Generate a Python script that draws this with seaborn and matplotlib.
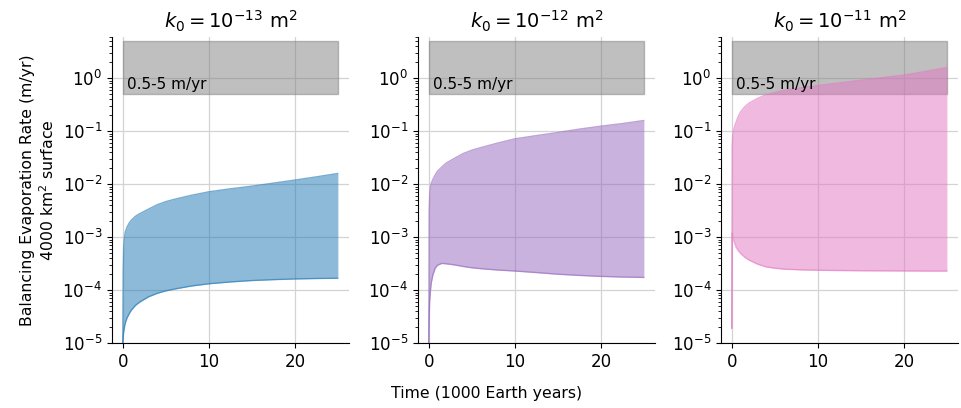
import numpy as np
import pandas as pd
import matplotlib
matplotlib.use("Agg")
import matplotlib.pyplot as plt
import seaborn as sns

# ---- data ----
time = [0, 0.05, 0.1, 0.2, 0.3, 0.5, 0.75, 1, 1.5, 2, 3, 4, 5, 6, 8, 10,
        12.5, 15, 17.5, 20, 22.5, 25]

k13_upper = [1e-5, 2e-4, 6e-4, 1.0e-3, 1.25e-3, 1.55e-3, 1.85e-3, 2.1e-3, 2.5e-3, 2.8e-3,
             3.4e-3, 4.1e-3, 4.7e-3, 5.2e-3, 6.2e-3, 7.2e-3, 8.2e-3, 9.2e-3,
             1.05e-2, 1.2e-2, 1.38e-2, 1.6e-2]
k13_lower = [1e-5, 1.3e-5, 1.6e-5, 2.0e-5, 2.4e-5, 3.0e-5, 3.6e-5, 4.2e-5, 5.2e-5, 6.0e-5,
             7.5e-5, 8.7e-5, 9.7e-5, 1.05e-4, 1.2e-4, 1.32e-4, 1.43e-4, 1.52e-4,
             1.58e-4, 1.63e-4, 1.66e-4, 1.68e-4]

k12_upper = [1e-5, 3e-3, 6e-3, 9e-3, 1.05e-2, 1.25e-2, 1.5e-2, 1.75e-2, 2.1e-2, 2.5e-2,
             3.1e-2, 3.8e-2, 4.4e-2, 4.9e-2, 6.0e-2, 7.2e-2, 8.3e-2, 9.5e-2,
             1.1e-1, 1.25e-1, 1.4e-1, 1.6e-1]
k12_lower = [1e-5, 3e-5, 6e-5, 1.0e-4, 1.4e-4, 2.0e-4, 2.6e-4, 2.95e-4, 3.2e-4, 3.15e-4,
             3.0e-4, 2.8e-4, 2.65e-4, 2.55e-4, 2.4e-4, 2.3e-4, 2.15e-4, 2.0e-4,
             1.9e-4, 1.82e-4, 1.77e-4, 1.74e-4]

k11_upper = [1.9e-5, 5e-2, 8e-2, 1.05e-1, 1.2e-1, 1.5e-1, 1.9e-1, 2.3e-1, 2.9e-1, 3.4e-1,
             4.2e-1, 4.9e-1, 5.4e-1, 5.9e-1, 6.6e-1, 7.3e-1, 8.2e-1, 9.2e-1,
             1.03, 1.15, 1.35, 1.6]
k11_lower = [1.9e-5, 1.2e-3, 1.1e-3, 9e-4, 8e-4, 6.5e-4, 5.6e-4, 5.0e-4, 4.2e-4, 3.7e-4,
             3.1e-4, 2.75e-4, 2.6e-4, 2.5e-4, 2.42e-4, 2.38e-4, 2.35e-4, 2.33e-4,
             2.32e-4, 2.31e-4, 2.3e-4, 2.3e-4]

titles = [r"$k_0 = 10^{-13}$ m$^2$", r"$k_0 = 10^{-12}$ m$^2$", r"$k_0 = 10^{-11}$ m$^2$"]
uppers = [k13_upper, k12_upper, k11_upper]
lowers = [k13_lower, k12_lower, k11_lower]
band_low, band_high = 0.5, 5
band_x = [0, 25]
band_label = "0.5-5 m/yr"

# ---- plotting ----
sns.set_style("ticks")
plt.rcParams['font.family'] = ['DejaVu Sans']
plt.rcParams.update({"text.color": "black", "axes.labelcolor": "black",
                     "xtick.color": "black", "ytick.color": "black",
                     "axes.edgecolor": "black"})
colors = sns.color_palette("tab10")
fill_colors = [colors[0], colors[4], colors[6]]

fig = plt.figure(figsize=(9.62, 4.08), dpi=100)
lefts = [0.1164, 0.4345, 0.7495]
axes = [fig.add_axes([l, 0.159, 0.246, 0.750]) for l in lefts]

for ax, title, up, lo, c in zip(axes, titles, uppers, lowers, fill_colors):
    ax.set_yscale("log")
    ax.grid(True, which="major", color="#d3d3d3", linewidth=0.9)
    ax.set_axisbelow(True)
    ax.fill_between(band_x, band_low, band_high, color="gray", alpha=0.5)
    ax.text(0.5, 0.56, band_label, fontsize=11, va="bottom", ha="left")
    df = pd.DataFrame({"t": time, "upper": up, "lower": lo})
    ax.fill_between(df["t"], df["lower"], df["upper"], color=c, alpha=0.5, linewidth=0)
    sns.lineplot(data=df, x="t", y="upper", ax=ax, color=c, alpha=0.6, linewidth=1)
    sns.lineplot(data=df, x="t", y="lower", ax=ax, color=c, alpha=0.6, linewidth=1)
    ax.set_ylim(1e-5, 6)
    ax.set_xlim(-1.25, 26.25)
    ax.set_xticks([0, 10, 20])
    ax.set_yticks([1e-5, 1e-4, 1e-3, 1e-2, 1e-1, 1e0])
    ax.tick_params(labelsize=12)
    ax.set_xlabel("")
    ax.set_ylabel("")
    ax.set_title(title, fontsize=14)
    sns.despine(ax=ax)

axes[0].set_ylabel("Balancing Evaporation Rate (m/yr)\n4000 km$^2$ surface", fontsize=11.3)
fig.text(0.506, 0.025, "Time (1000 Earth years)", ha="center", fontsize=11.3)

fig.savefig("out.png", dpi=100)
